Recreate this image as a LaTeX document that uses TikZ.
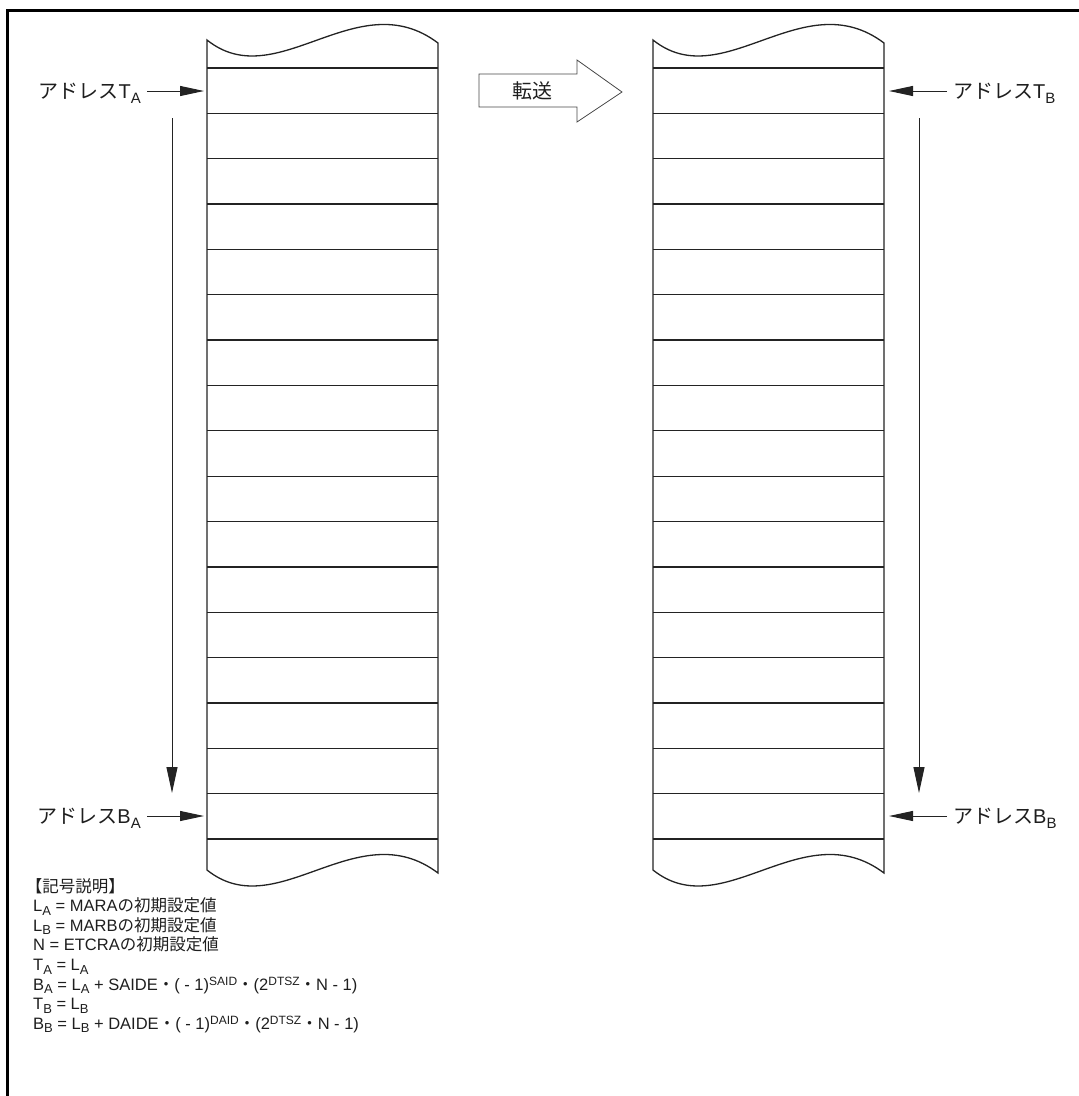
\documentclass[tikz,border=0pt]{standalone}
\usepackage{fontspec}
\setmainfont{Liberation Sans}
\newfontfamily\jafont{Noto Sans CJK JP}
\usetikzlibrary{arrows.meta}
\definecolor{memLine}{RGB}{35,35,35}
\definecolor{memText}{RGB}{30,30,30}
\definecolor{memGray}{RGB}{70,70,70}
\newcommand{\ja}[1]{{\jafont #1}}
\newcommand{\dn}[1]{\raisebox{-5pt}{\fontsize{15}{15}\selectfont #1}}
\newcommand{\ldn}[1]{\raisebox{-3.5pt}{\fontsize{13}{13}\selectfont #1}}
\newcommand{\lup}[1]{\raisebox{4.5pt}{\fontsize{12}{12}\selectfont #1}}

\begin{document}
\begin{tikzpicture}[x=1pt, y=-1pt,
  lbl/.style={font=\fontsize{20}{22.7}\selectfont, text=memText, inner sep=0pt},
  note/.style={font=\fontsize{16.5}{19.6}\selectfont, text=memText, inner sep=0pt},
  row/.style={line width=1.3pt, color=memLine},
  addr/.style={-{Triangle[length=24pt,width=10pt]}, line width=1pt, color=memLine},
  scan/.style={-{Triangle[length=26pt,width=11pt]}, line width=1pt, color=memLine},
  xferArr/.style={line width=0.8pt, color=memGray},
  frame/.style={line width=3pt, color=black},
]
\useasboundingbox (0,0) rectangle (1079,1096);

%% Frame (top and left edges only)
\draw[frame] (7.5,1096) -- (7.5,10) -- (1079,10);

%% Memory columns A (source) and B (destination)
\foreach \xl in {207,653}{
  \begin{scope}[xshift=\xl pt]
    \draw[row] (0,40) .. controls (70,96) and (150,-18) .. (231,43) -- (231,873)
      .. controls (150,812) and (70,926) .. (0,870) -- cycle;
    \foreach \k in {0,...,17}
      \draw[row] (0,{68+45.35*\k}) -- (231,{68+45.35*\k});
  \end{scope}
}

%% Column edge points
\coordinate (aT) at (207,91);
\coordinate (aB) at (207,816);
\coordinate (bT) at (884,91);
\coordinate (bB) at (884,816);

%% Address labels
\node[lbl, anchor=base east] (lblTA) at (141,98)  {\ja{アドレス}T\dn{A}};
\node[lbl, anchor=base east] (lblBA) at (141,823) {\ja{アドレス}B\dn{A}};
\node[lbl, anchor=base west] (lblTB) at (953,98)  {\ja{アドレス}T\dn{B}};
\node[lbl, anchor=base west] (lblBB) at (953,823) {\ja{アドレス}B\dn{B}};

%% Transfer arrow
\node[lbl] (xfer) at (532,91) {\ja{転送}};
\draw[xferArr] (479,74) -- (577,74) -- (577,60) -- (622,92) -- (577,122)
  -- (577,107) -- (479,107) -- cycle;

%% Scan direction
\coordinate (aScanTop) at (172,118);
\coordinate (aScanEnd) at (172,793);
\coordinate (bScanTop) at (919,118);
\coordinate (bScanEnd) at (919,793);

%% ── Arrows ──────────────────────────────────────────────
\draw[addr, shorten <=6pt, shorten >=3pt] (lblTA.east |- aT) -- (aT);
\draw[addr, shorten <=6pt, shorten >=3pt] (lblBA.east |- aB) -- (aB);
\draw[addr, shorten <=6pt, shorten >=5pt] (lblTB.west |- bT) -- (bT);
\draw[addr, shorten <=6pt, shorten >=5pt] (lblBB.west |- bB) -- (bB);

\draw[scan] (aScanTop) -- (aScanEnd);
\draw[scan] (bScanTop) -- (bScanEnd);

%% Legend
\node[note, anchor=north west, align=left] (legend) at (33,878) {%
  \hspace*{-0.45em}\ja{【記号説明】}\\
  L\ldn{A} = MARA\ja{の初期設定値}\\
  L\ldn{B} = MARB\ja{の初期設定値}\\
  N = ETCRA\ja{の初期設定値}\\
  T\ldn{A} = L\ldn{A}\\
  B\ldn{A} = L\ldn{A} + SAIDE\ja{・}( - 1)\lup{SAID}\ja{・}(2\lup{DTSZ}\ja{・}N - 1)\\
  T\ldn{B} = L\ldn{B}\\
  B\ldn{B} = L\ldn{B} + DAIDE\ja{・}( - 1)\lup{DAID}\ja{・}(2\lup{DTSZ}\ja{・}N - 1)};

\end{tikzpicture}
\end{document}
